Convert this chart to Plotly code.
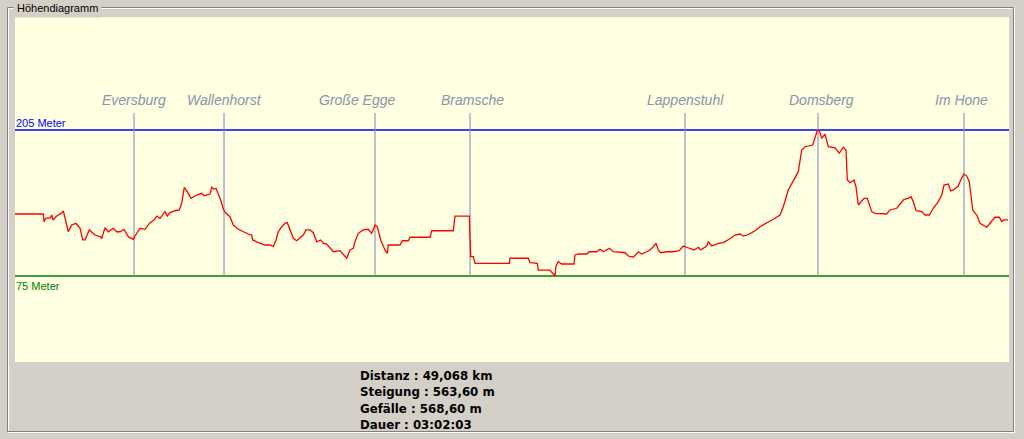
import plotly.graph_objects as go

# ---------------- data ----------------
dist_km = [0, 1.398, 1.433, 1.532, 1.729, 1.813, 1.878, 2.061, 2.308, 2.387, 2.634, 2.802, 3.014, 3.212,
           3.345, 3.459, 3.671, 3.953, 4.200, 4.284, 4.447, 4.610, 4.857, 5.025, 5.188, 5.386, 5.599, 5.846,
           5.930, 6.177, 6.424, 6.508, 6.671, 6.869, 7.002, 7.165, 7.412, 7.526, 7.659, 7.906, 8.119, 8.237,
           8.366, 8.563, 8.697, 8.979, 9.107, 9.226, 9.339, 9.636, 9.720, 9.833, 9.932, 10.046, 10.164,
           10.293, 10.426, 10.624, 10.787, 11.034, 11.281, 11.528, 11.696, 11.746, 12.022, 12.353, 12.601,
           12.764, 12.897, 13.011, 13.179, 13.342, 13.455, 13.752, 13.920, 14.246, 14.380, 14.577, 14.740,
           14.908, 15.106, 15.234, 15.402, 15.565, 15.728, 16.060, 16.391, 16.554, 16.717, 16.801, 16.964,
           17.211, 17.458, 17.626, 17.789, 17.903, 18.071, 18.283, 18.397, 18.446, 19.024, 19.138, 19.435,
           19.519, 20.507, 20.591, 21.658, 21.742, 22.449, 22.483, 22.518, 22.647, 22.730, 24.425, 24.460,
           25.364, 25.448, 25.809, 25.858, 26.436, 26.684, 26.733, 26.846, 27.014, 27.622, 27.672, 27.835,
           28.250, 28.378, 28.744, 28.907, 29.070, 29.366, 29.564, 29.895, 30.143, 30.306, 30.553, 30.800,
           30.968, 31.215, 31.378, 31.541, 31.674, 31.788, 31.907, 32.203, 32.529, 32.826, 33.023, 33.320,
           33.552, 33.765, 33.883, 34.180, 34.259, 34.427, 34.753, 35.000, 35.168, 35.366, 35.578, 35.825,
           35.988, 36.186, 36.403, 36.566, 36.813, 37.145, 37.471, 37.802, 37.965, 38.211, 38.543, 38.706,
           38.874, 39.037, 39.418, 39.531, 39.645, 39.744, 39.862, 40.025, 40.188, 40.519, 40.732, 40.929,
           41.063, 41.127, 41.261, 41.458, 41.557, 41.671, 41.952, 42.115, 42.333, 42.496, 43.074, 43.237,
           43.568, 43.697, 43.929, 44.141, 44.275, 44.389, 44.522, 44.804, 44.967, 45.179, 45.377, 45.624,
           45.792, 45.906, 46.118, 46.237, 46.365, 46.612, 46.731, 46.894, 47.028, 47.156, 47.324, 47.522,
           47.684, 48.015, 48.262, 48.426, 48.638, 48.757, 48.871, 49.068]

elev_m = [130.2, 130.2, 123.4, 126.6, 126.6, 129.3, 124.9, 128.4, 131.1, 132.9, 114.4, 120.4, 121.9, 117.7,
          107.1, 107.1, 116.0, 111.5, 110.0, 108.6, 118.0, 114.4, 117.5, 114.4, 114.4, 116.6, 110.0, 107.7,
          110.6, 117.5, 116.6, 118.9, 122.5, 124.9, 128.4, 126.4, 132.3, 128.4, 131.4, 133.1, 133.8, 139.7,
          154.0, 148.6, 144.2, 147.1, 148.0, 148.6, 146.5, 148.0, 154.0, 152.2, 153.1, 148.6, 142.7,
          134.4, 130.8, 127.8, 120.4, 116.6, 114.4, 112.4, 111.5, 107.1, 104.7, 102.6, 102.6,
          101.1, 107.1, 114.4, 118.9, 121.9, 122.5, 108.6, 106.4, 111.5, 116.0, 116.0, 113.6,
          105.5, 107.1, 104.1, 103.5, 99.7, 96.6, 97.5, 90.8, 98.2, 99.7, 105.5, 113.0,
          116.0, 116.6, 113.0, 120.4, 118.9, 107.1, 98.2, 95.2, 102.6, 102.6, 106.4, 106.4,
          109.5, 109.5, 115.3, 115.3, 128.4, 128.4, 109.5, 92.2, 92.2, 86.3, 86.3, 90.8,
          90.8, 86.8, 86.3, 80.3, 80.3, 75.0, 83.9, 87.7, 85.7, 85.7, 93.7, 94.6,
          94.6, 96.6, 96.6, 98.8, 96.6, 99.7, 96.6, 95.7, 95.7, 92.8, 91.7, 96.6,
          94.6, 96.6, 98.2, 101.1, 104.1, 98.2, 95.7, 96.6, 96.6, 97.5, 101.7, 99.7,
          98.2, 100.6, 98.2, 101.7, 105.5, 101.7, 104.1, 104.7, 106.4, 108.6, 111.5, 112.4,
          110.6, 111.5, 113.6, 115.3, 118.9, 121.9, 125.5, 129.3, 136.7, 151.6, 162.0, 167.9,
          187.2, 190.1, 191.6, 199.0, 204.4, 204.4, 197.6, 201.4, 190.1, 189.2, 184.3, 189.6,
          187.2, 160.5, 158.1, 160.5, 154.5, 138.2, 144.2, 144.2, 132.3, 130.8, 130.2, 133.8,
          135.3, 138.2, 143.3, 144.2, 145.6, 141.2, 133.1, 132.3, 129.3, 129.3, 135.3, 141.2,
          147.1, 156.0, 156.9, 150.7, 151.6, 155.1, 160.5, 165.8, 164.0, 159.0, 133.8, 129.3,
          121.9, 118.4, 123.4, 127.3, 127.3, 123.4, 124.9, 124.9]

place_names = ["Eversburg", "Wallenhorst", "Große Egge", "Bramsche", "Lappenstuhl", "Domsberg", "Im Hone"]
place_km = [5.880, 10.328, 17.789, 22.483, 33.107, 39.679, 46.894]
# where each name label is centred (km); most sit on their marker
label_km = [5.870, 10.348, 16.924, 22.582, 33.156, 39.828, 46.746]

max_elev = 205
min_elev = 75
total_km = 49.068

stats_lines = ["Distanz : 49,068 km", "Steigung : 563,60 m", "Gefälle : 568,60 m", "Dauer : 03:02:03"]
title_text = "Höhendiagramm"

# ---------------- layout helpers ----------------
W, H = 1024, 439
BG = "#D4D0C8"
PLOT_BG = "#FFFFE1"
MARK_COL = "#8490BC"
LABEL_COL = "#8A94AC"


def px(x):
    return x / W


def py(y):
    return 1 - y / H


# plot area in pixels: x 15..1009, y 17..362
px_per_m = 146 / 130.0
y_top = max_elev + (130 - 17) / px_per_m
y_bot = min_elev - (362 - 276) / px_per_m
marker_top = max_elev + (130 - 113) / px_per_m
label_y = max_elev + (130 - 100) / px_per_m

fig = go.Figure()
fig.add_trace(go.Scatter(x=dist_km, y=elev_m, mode="lines",
                         line=dict(color="#FF0000", width=1.3), hoverinfo="skip",
                         showlegend=False))

shapes = []
# limit lines
shapes.append(dict(type="line", xref="x domain", yref="y", x0=0, x1=1, y0=max_elev, y1=max_elev,
                   line=dict(color="#0000FF", width=1.5), layer="below"))
shapes.append(dict(type="line", xref="x domain", yref="y", x0=0, x1=1, y0=min_elev, y1=min_elev,
                   line=dict(color="#008000", width=1.5), layer="below"))
# place markers
for k in place_km:
    shapes.append(dict(type="line", xref="x", yref="y", x0=k, x1=k, y0=min_elev, y1=marker_top,
                       line=dict(color=MARK_COL, width=1.1), layer="below"))

# group box etched frame
dark = "#808080"
white = "#FFFFFF"
frame = [
    (7.5, 7.5, 1013.5, 7.5, dark), (8.5, 8.5, 1012.5, 8.5, white),
    (7.5, 7.5, 7.5, 431.5, dark), (8.5, 8.5, 8.5, 430.5, white),
    (1013.5, 7.5, 1013.5, 431.5, dark), (1014.5, 7.5, 1014.5, 432.5, white),
    (7.5, 431.5, 1013.5, 431.5, dark), (7.5, 432.5, 1014.5, 432.5, white),
]
for x0, y0, x1, y1, c in frame:
    shapes.append(dict(type="line", xref="paper", yref="paper", x0=px(x0), y0=py(y0), x1=px(x1), y1=py(y1),
                       line=dict(color=c, width=1), layer="above"))

annotations = []
for name, k in zip(place_names, label_km):
    annotations.append(dict(x=k, y=label_y, xref="x", yref="y", text=name, showarrow=False,
                            xanchor="center", yanchor="middle",
                            font=dict(family="Liberation Sans", size=14, color=LABEL_COL, style="italic")))

annotations.append(dict(x=px(14), y=max_elev, xref="paper", yref="y", text=f"{max_elev} Meter",
                        showarrow=False, xanchor="left", yanchor="middle", yshift=7,
                        font=dict(family="Liberation Sans", size=11, color="#0000FF")))
annotations.append(dict(x=px(14), y=min_elev, xref="paper", yref="y", text=f"{min_elev} Meter",
                        showarrow=False, xanchor="left", yanchor="middle", yshift=-10,
                        font=dict(family="Liberation Sans", size=11, color="#008000")))

annotations.append(dict(x=px(13), y=py(8), xref="paper", yref="paper", text=title_text, showarrow=False,
                        xanchor="left", yanchor="middle", bgcolor=BG, borderpad=3,
                        font=dict(family="Liberation Sans", size=11, color="#000000")))

for i, line in enumerate(stats_lines):
    annotations.append(dict(x=px(358), y=py(375.5 + i * 16.5), xref="paper", yref="paper", text=line,
                            showarrow=False, xanchor="left", yanchor="middle",
                            font=dict(family="DejaVu Sans", size=11.8, color="#000000", weight="bold")))

fig.update_layout(
    width=W, height=H,
    margin=dict(l=0, r=0, t=0, b=0),
    paper_bgcolor=BG,
    plot_bgcolor=PLOT_BG,
    shapes=shapes,
    annotations=annotations,
    xaxis=dict(domain=[15 / W, 1009 / W], range=[0, total_km * 994 / 993], showgrid=False,
               zeroline=False, showticklabels=False, showline=False, ticks="", fixedrange=True),
    yaxis=dict(domain=[1 - 362 / H, 1 - 17 / H], range=[y_bot, y_top], showgrid=False,
               zeroline=False, showticklabels=False, showline=False, ticks="", fixedrange=True),
)

fig.write_html(
    "out.html",
    config={"displayModeBar": False},
    post_script="document.body.style.margin='0';document.body.style.padding='0';"
                "document.body.style.overflow='hidden';"
                "document.documentElement.style.background='" + BG + "';",
)
